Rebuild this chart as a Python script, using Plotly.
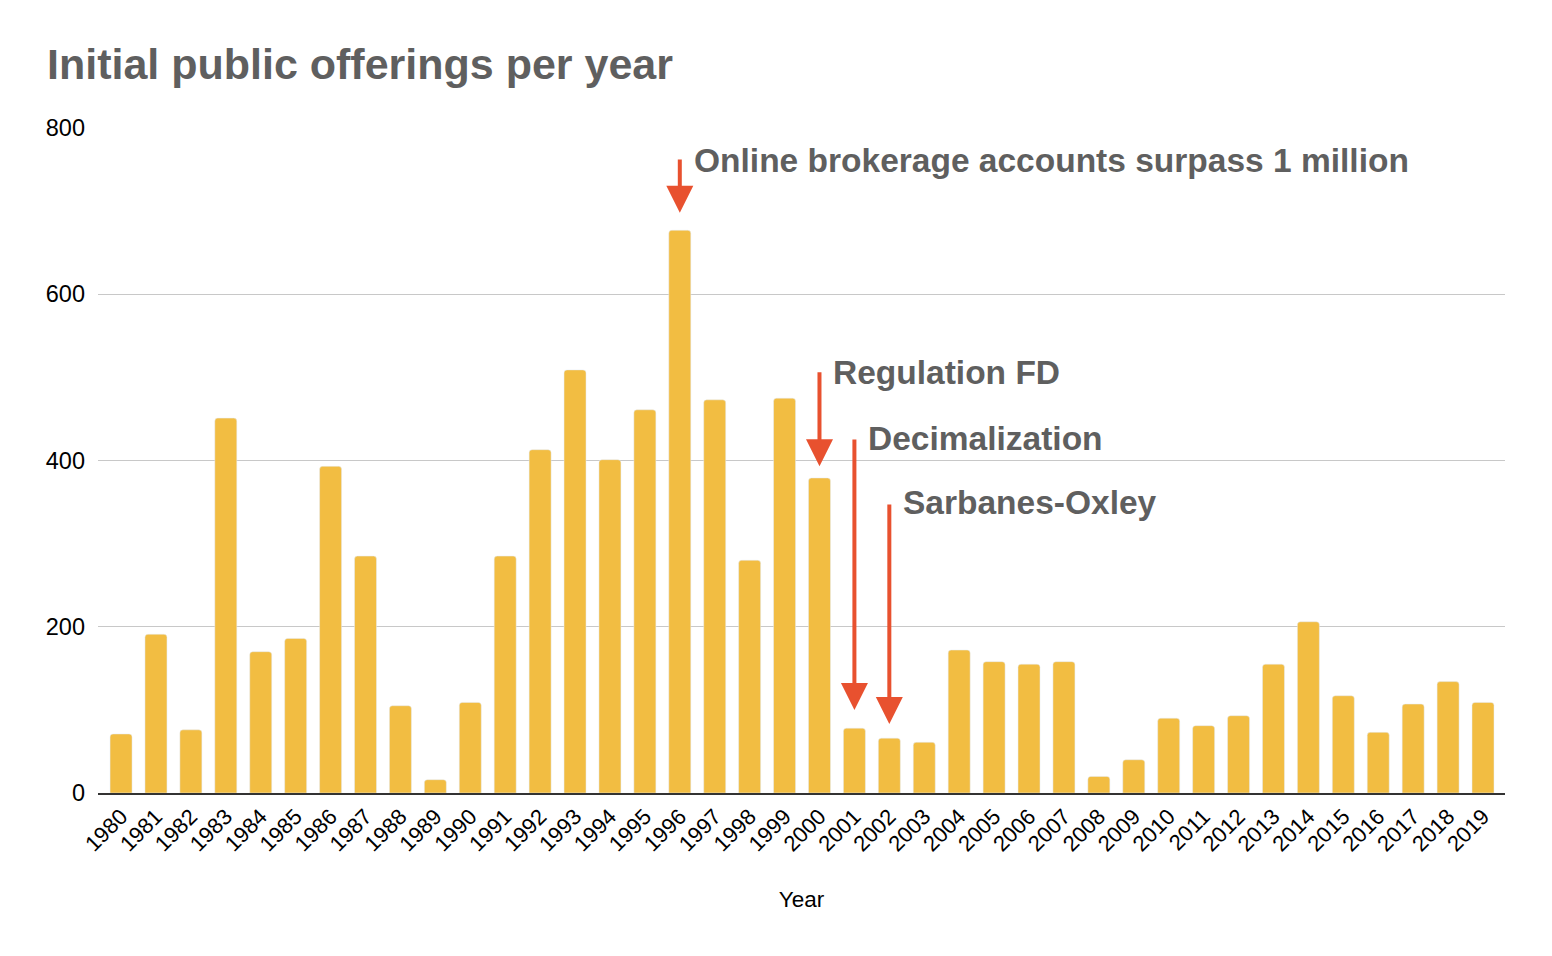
import plotly.graph_objects as go

years = [str(y) for y in range(1980, 2020)]
ipos = [71, 191, 76, 451, 170, 186, 393, 285, 105, 16,
        109, 285, 413, 509, 401, 461, 677, 473, 280, 475,
        379, 78, 66, 61, 172, 158, 155, 158, 20, 40,
        90, 81, 93, 155, 206, 117, 73, 107, 134, 109]

events = ["Online brokerage accounts surpass 1 million", "Regulation FD",
          "Decimalization", "Sarbanes-Oxley"]
event_years = ["1996", "2000", "2001", "2002"]
arrow_tail = [764, 508, 427, 349]
arrow_tip = [698, 393, 100, 83]
label_y = [761, 506, 427, 350]

bar_color = "#f2bd42"
arrow_color = "#e8512f"
text_gray = "#5f5f5f"

fig = go.Figure(go.Bar(x=years, y=ipos, marker_color=bar_color, hoverinfo="x+y"))

anns = []
for ev, yr, t0, t1, ly in zip(events, event_years, arrow_tail, arrow_tip, label_y):
    xi = years.index(yr)
    anns.append(dict(x=xi, y=t1, ax=xi, ay=t0, xref="x", yref="y", axref="x", ayref="y",
                     text="", showarrow=True, arrowhead=2, arrowsize=1.35, arrowwidth=4,
                     arrowcolor=arrow_color, standoff=0))
    anns.append(dict(x=xi, y=ly, xref="x", yref="y", text="<b>%s</b>" % ev, showarrow=False,
                     xanchor="left", yanchor="middle", xshift=12,
                     font=dict(family="Liberation Sans, Arial, sans-serif", size=33.5, color=text_gray)))

fig.update_layout(
    width=1544, height=948,
    plot_bgcolor="white", paper_bgcolor="white",
    margin=dict(l=90, r=47, t=120, b=163),
    bargap=0.37,
    barcornerradius=3,
    showlegend=False,
    title=dict(text="<b>Initial public offerings per year</b>", x=39/1544, xanchor="left",
               y=1 - 56/948, yanchor="middle",
               font=dict(family="Liberation Sans, Arial, sans-serif", size=43, color=text_gray)),
    font=dict(family="Liberation Sans, Arial, sans-serif", color="#000"),
    xaxis=dict(type="category", range=[-0.66, len(years) - 0.37],
               title=dict(text="Year", font=dict(size=22.5), standoff=36),
               tickangle=-45, tickfont=dict(size=22), showgrid=False,
               showline=True, linecolor="#333", linewidth=2, ticks=""),
    yaxis=dict(range=[0, 800], tickvals=[0, 200, 400, 600, 800], tickfont=dict(size=23.5),
               gridcolor="#c8c8c8", gridwidth=1, zeroline=False, ticks="", ticklabelstandoff=12),
    annotations=anns,
)

fig.write_html("out.html")
